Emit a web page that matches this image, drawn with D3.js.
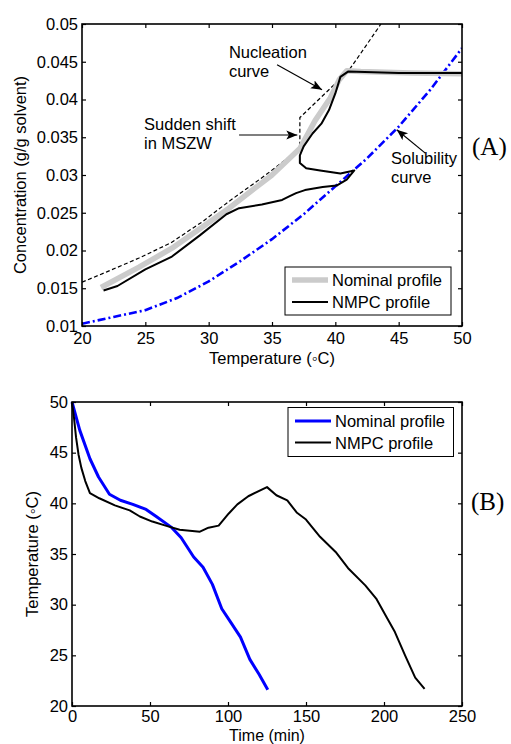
<!DOCTYPE html>
<html>
<head>
<meta charset="utf-8">
<script src="https://cdn.jsdelivr.net/npm/d3@7/dist/d3.min.js"></script>
<style>
  body { margin: 0; background: #fff; }
  svg text { font-family: "Liberation Sans", Arial, Helvetica, sans-serif; fill: #000; }
</style>
</head>
<body>
<svg id="fig" width="511" height="744"></svg>
<script>
// ---- Panel A: concentration vs. temperature ----
const tempTicksA = [20, 25, 30, 35, 40, 45, 50];
const concTicks = [0.01, 0.015, 0.02, 0.025, 0.03, 0.035, 0.04, 0.045, 0.05];

// [temperature °C, concentration g/g]
const nucleationCurve = [[20, 0.0158], [22, 0.0172], [24.5, 0.0190], [27, 0.0210], [29.5, 0.0238],
  [31.6, 0.0265], [34.5, 0.0300], [37.2, 0.0335], [37.2, 0.0376], [39, 0.0405], [41, 0.0437],
  [42, 0.0461], [43.6, 0.0500]];
const solubilityCurve = [[20, 0.0103], [22.5, 0.0112], [25, 0.0121], [27.5, 0.0137], [30, 0.0159],
  [32.5, 0.0186], [35, 0.0215], [37.5, 0.0248], [40, 0.0285], [42.5, 0.0322], [45, 0.0364],
  [47.5, 0.0413], [50, 0.0468]];
const nominalProfileA = [[21.5, 0.0151], [24.5, 0.0178], [27.1, 0.0203], [29.5, 0.0231], [31.6, 0.0256],
  [35, 0.0300], [37.2, 0.0335], [38.4, 0.0372], [39.6, 0.0402], [40.3, 0.0426], [40.9, 0.0438],
  [42, 0.0437], [46, 0.0435], [50, 0.0434]];
const nmpcProfileA = [[50, 0.0435], [45, 0.0435], [41.0, 0.0437], [40.4, 0.0430], [40.0, 0.0408],
  [39.5, 0.0386], [38.9, 0.0368], [38.2, 0.0355], [37.5, 0.0338], [37.2, 0.0326], [37.2, 0.0316],
  [37.7, 0.0309], [38.8, 0.0306], [40.4, 0.0302], [41.5, 0.0306], [40.9, 0.0294], [40.1, 0.0286],
  [39.0, 0.0284], [37.6, 0.0280], [36.9, 0.0276], [36.4, 0.0272], [35.8, 0.0267], [34.2, 0.0261],
  [32.4, 0.0256], [31.4, 0.0248], [29.3, 0.0220], [27.1, 0.0192], [25.0, 0.0175], [22.8, 0.0153],
  [21.7, 0.0147]];

// ---- Panel B: temperature vs. time ----
const timeTicks = [0, 50, 100, 150, 200, 250];
const tempTicksB = [20, 25, 30, 35, 40, 45, 50];

// [time min, temperature °C]
const nominalProfileB = [[0, 50], [5, 47.2], [11.5, 44.4], [17, 42.6], [24, 40.9], [31, 40.3],
  [39, 39.9], [47.5, 39.4], [54, 38.7], [64, 37.6], [70, 36.6], [78, 34.7], [84, 33.7], [90, 32.0],
  [96, 29.6], [102, 28.2], [108, 26.8], [114, 24.6], [120, 23.1], [125.5, 21.6]];
const nmpcProfileB = [[0, 50], [1.3, 48.4], [2.6, 46.5], [4.2, 44.8], [6, 43.5], [8.5, 42.2],
  [11.5, 41.0], [17.5, 40.5], [27.5, 39.8], [37, 39.3], [43.5, 38.7], [51.5, 38.2], [60, 37.8],
  [69, 37.4], [82, 37.2], [87.5, 37.6], [94, 37.8], [100.5, 39.0], [106, 39.9], [113, 40.7],
  [125, 41.6], [131, 40.8], [138, 40.3], [144, 39.1], [150, 38.4], [159, 36.7], [169, 35.2],
  [177, 33.6], [188, 31.9], [195, 30.6], [201.5, 28.8], [207, 27.3], [213.5, 25.0], [220, 22.8],
  [226, 21.7]];

const FONT = 16.5;
const svg = d3.select("#fig");

const defs = svg.append("defs");
defs.append("marker")
  .attr("id", "head").attr("markerUnits", "userSpaceOnUse")
  .attr("markerWidth", 13).attr("markerHeight", 10)
  .attr("refX", 11).attr("refY", 4.5).attr("orient", "auto")
  .append("path").attr("d", "M0,0 L11,4.5 L0,9 L2.5,4.5 Z").attr("fill", "#000");

function frame(g, x, y, xTicks, yTicks, xPad, yPad, yFmt) {
  const [x0, x1] = x.range(), [y0, y1] = y.range();
  const style = a => {
    a.selectAll(".domain").remove();
    a.selectAll(".tick line").attr("stroke", "#000").attr("stroke-width", 1.2);
    a.selectAll(".tick text").attr("font-size", FONT).attr("font-family", null);
  };
  g.append("g").attr("transform", `translate(0,${y0})`)
    .call(d3.axisBottom(x).tickValues(xTicks).tickSize(-4).tickPadding(xPad).tickFormat(d => String(d)))
    .call(style);
  g.append("g").attr("transform", `translate(0,${y1})`)
    .call(d3.axisTop(x).tickValues(xTicks).tickSize(-4).tickFormat(""))
    .call(style);
  g.append("g").attr("transform", `translate(${x0},0)`)
    .call(d3.axisLeft(y).tickValues(yTicks).tickSize(-4).tickPadding(yPad).tickFormat(yFmt))
    .call(style);
  g.append("g").attr("transform", `translate(${x1},0)`)
    .call(d3.axisRight(y).tickValues(yTicks).tickSize(-4).tickFormat(""))
    .call(style);
  g.append("rect").attr("x", x0).attr("y", y1).attr("width", x1 - x0).attr("height", y0 - y1)
    .attr("fill", "none").attr("stroke", "#000").attr("stroke-width", 1.6);
}

// ================= Panel A =================
const gA = svg.append("g");
const xA = d3.scaleLinear().domain([20, 50]).range([82, 462]);
const yA = d3.scaleLinear().domain([0.01, 0.05]).range([326, 24]);
const lineA = d3.line().x(d => xA(d[0])).y(d => yA(d[1]));

const clipA = defs.append("clipPath").attr("id", "clipA");
clipA.append("rect").attr("x", 82).attr("y", 24).attr("width", 380).attr("height", 302);
const plotA = gA.append("g").attr("clip-path", "url(#clipA)");

plotA.append("path").datum(solubilityCurve).attr("d", lineA)
  .attr("fill", "none").attr("stroke", "#0000ff").attr("stroke-width", 2.6)
  .attr("stroke-dasharray", "8,3,2,3");
plotA.append("path").datum(nucleationCurve).attr("d", lineA)
  .attr("fill", "none").attr("stroke", "#000").attr("stroke-width", 1.2)
  .attr("stroke-dasharray", "4,2.5");
plotA.append("path").datum(nominalProfileA).attr("d", lineA)
  .attr("fill", "none").attr("stroke", "#cbcbcb").attr("stroke-width", 5.5)
  .attr("stroke-linejoin", "round");
plotA.append("path").datum(nmpcProfileA).attr("d", lineA)
  .attr("fill", "none").attr("stroke", "#000").attr("stroke-width", 2)
  .attr("stroke-linejoin", "round");

frame(gA, xA, yA, tempTicksA, concTicks, 6, 4, d => String(d));

gA.append("text").attr("x", 272).attr("y", 364).attr("text-anchor", "middle")
  .attr("font-size", FONT).text("Temperature (\u25E6C)");
gA.append("text").attr("transform", "translate(26,175) rotate(-90)").attr("text-anchor", "middle")
  .attr("font-size", FONT).text("Concentration (g/g solvent)");

// annotations
const notes = [
  { lines: ["Nucleation", "curve"], at: [31.6, 0.0455], from: [35.4, 0.0446], to: [38.95, 0.0413] },
  { lines: ["Sudden shift", "in MSZW"], at: [24.9, 0.0359], from: [32.4, 0.0353], to: [37.0, 0.0353] },
  { lines: ["Solubility", "curve"], at: [44.4, 0.0314], from: [47.1, 0.0329], to: [44.85, 0.0360] }
];
notes.forEach(n => {
  const t = gA.append("text").attr("font-size", FONT);
  n.lines.forEach((s, i) => t.append("tspan").attr("x", xA(n.at[0])).attr("y", yA(n.at[1]) + i * 19).text(s));
  gA.append("line")
    .attr("x1", xA(n.from[0])).attr("y1", yA(n.from[1]))
    .attr("x2", xA(n.to[0])).attr("y2", yA(n.to[1]))
    .attr("stroke", "#000").attr("stroke-width", 1.2).attr("marker-end", "url(#head)");
});

// legend A
const legA = gA.append("g").attr("transform", "translate(285,267)");
legA.append("rect").attr("width", 166).attr("height", 48)
  .attr("fill", "#fff").attr("stroke", "#000").attr("stroke-width", 1);
[["Nominal profile", "#cbcbcb", 5.5], ["NMPC profile", "#000", 2]].forEach((d, i) => {
  const yy = 13 + i * 22;
  legA.append("line").attr("x1", 7).attr("x2", 43).attr("y1", yy).attr("y2", yy)
    .attr("stroke", d[1]).attr("stroke-width", d[2]);
  legA.append("text").attr("x", 47).attr("y", yy + 6).attr("font-size", FONT).text(d[0]);
});

gA.append("text").attr("x", 472).attr("y", 155)
  .style("font-family", "'Liberation Serif', 'Times New Roman', serif")
  .attr("font-size", 25).text("(A)");

// ================= Panel B =================
const gB = svg.append("g");
const xB = d3.scaleLinear().domain([0, 250]).range([72, 462]);
const yB = d3.scaleLinear().domain([20, 50]).range([706, 402]);
const lineB = d3.line().x(d => xB(d[0])).y(d => yB(d[1]));

gB.append("path").datum(nominalProfileB).attr("d", lineB)
  .attr("fill", "none").attr("stroke", "#0000ff").attr("stroke-width", 3)
  .attr("stroke-linejoin", "round");
gB.append("path").datum(nmpcProfileB).attr("d", lineB)
  .attr("fill", "none").attr("stroke", "#000").attr("stroke-width", 2)
  .attr("stroke-linejoin", "round");

frame(gB, xB, yB, timeTicks, tempTicksB, 4.5, 4, d => String(d));

gB.append("text").attr("x", 267).attr("y", 740.6).attr("text-anchor", "middle")
  .attr("font-size", 16).text("Time (min)");
gB.append("text").attr("transform", "translate(38,554) rotate(-90)").attr("text-anchor", "middle")
  .attr("font-size", FONT).text("Temperature (\u25E6C)");

// legend B
const legB = gB.append("g").attr("transform", "translate(288,407.5)");
legB.append("rect").attr("width", 165.5).attr("height", 49)
  .attr("fill", "#fff").attr("stroke", "#000").attr("stroke-width", 1);
[["Nominal profile", "#0000ff", 3], ["NMPC profile", "#000", 2]].forEach((d, i) => {
  const yy = 13.5 + i * 21.5;
  legB.append("line").attr("x1", 7).attr("x2", 43).attr("y1", yy).attr("y2", yy)
    .attr("stroke", d[1]).attr("stroke-width", d[2]);
  legB.append("text").attr("x", 47).attr("y", yy + 6).attr("font-size", FONT).text(d[0]);
});

gB.append("text").attr("x", 471).attr("y", 510)
  .style("font-family", "'Liberation Serif', 'Times New Roman', serif")
  .attr("font-size", 25).text("(B)");
</script>
</body>
</html>
